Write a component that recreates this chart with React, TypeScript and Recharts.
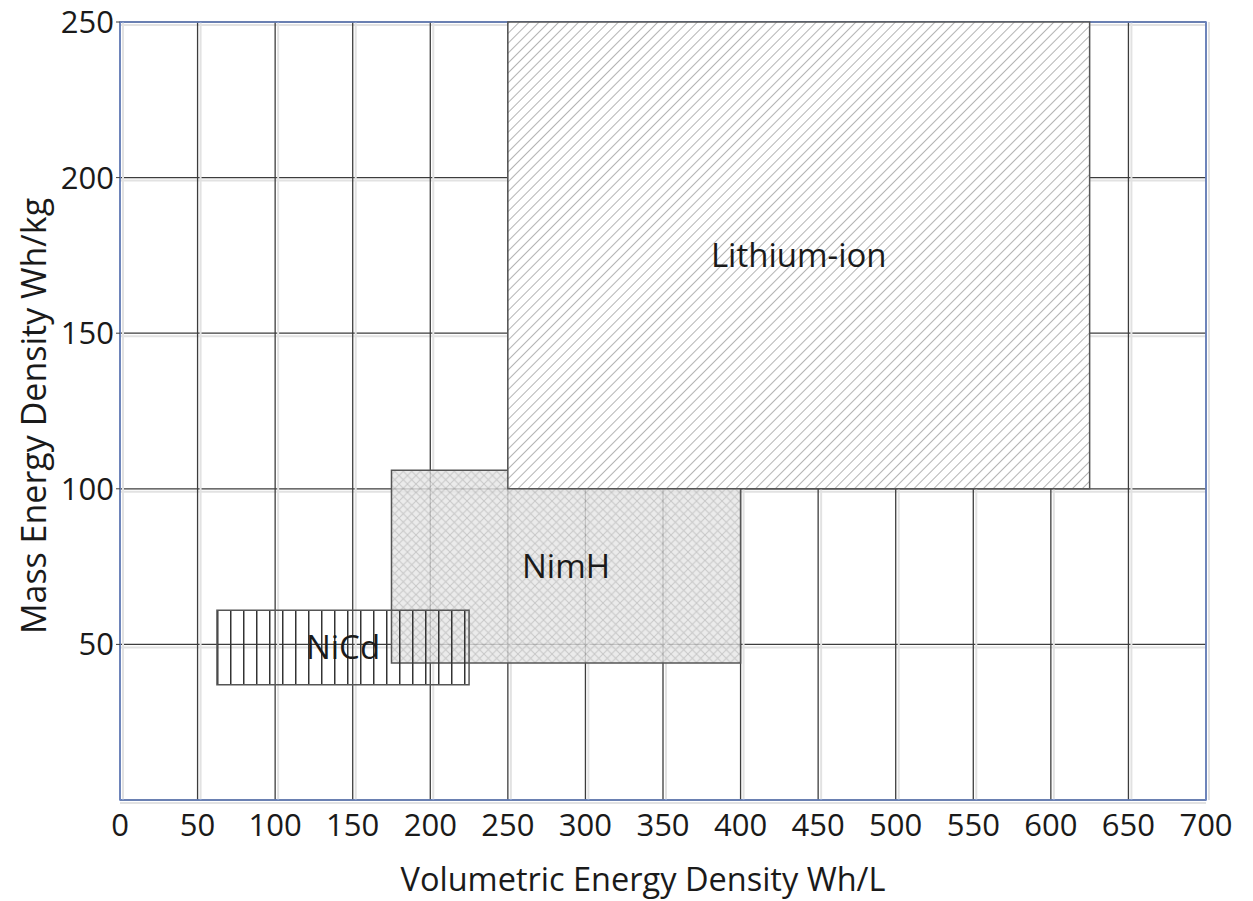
import {
  CartesianGrid,
  ComposedChart,
  LabelList,
  ReferenceArea,
  Scatter,
  XAxis,
  YAxis,
} from "recharts";

// battery chemistries, volumetric (Wh/L) vs mass (Wh/kg) energy density ranges
const chemistries = ["NimH", "NiCd", "Lithium-ion"];
const volumetricMin = [175, 62.5, 250];
const volumetricMax = [400, 225, 625];
const massMin = [44, 37, 100];
const massMax = [106, 61, 250];

const xTicks = [0, 50, 100, 150, 200, 250, 300, 350, 400, 450, 500, 550, 600, 650, 700];
const yTicks = [50, 100, 150, 200, 250];

// centre of each range, used to place the name
const centres = chemistries.map((name, i) => ({
  name,
  x: (volumetricMin[i] + volumetricMax[i]) / 2,
  y: (massMin[i] + massMax[i]) / 2,
}));

const fills = ["url(#crossHatch)", "url(#vertHatch)", "url(#diagHatch)"];
const opacities = [0.8, 1, 1];

const font = "'Open Sans', sans-serif";

const gridLine = (dx: number, dy: number) => (props: any) => {
  const { x1, y1, x2, y2 } = props;
  return (
    <g key={`${x1}-${y1}-${x2}-${y2}`}>
      <line x1={x1 + dx} y1={y1 + dy} x2={x2 + dx} y2={y2 + dy} stroke="#e2e2e2" strokeWidth={2} />
      <line x1={x1} y1={y1} x2={x2} y2={y2} stroke="#3c3c3c" strokeWidth={1.3} />
    </g>
  );
};

const App = () => {
  return (
    <div style={{ width: 1237, height: 893 }}>
      <ComposedChart
        width={1237}
        height={893}
        margin={{ top: 14, right: 39, left: 0, bottom: 0 }}
      >
        <defs>
          <pattern id="diagHatch" patternUnits="userSpaceOnUse" width={7} height={7} patternTransform="rotate(45)">
            <rect width={7} height={7} fill="#ffffff" />
            <line x1={0} y1={0} x2={0} y2={7} stroke="#b4b4b4" strokeWidth={2} />
          </pattern>
          <pattern id="crossHatch" patternUnits="userSpaceOnUse" width={8.5} height={8.5}>
            <rect width={8.5} height={8.5} fill="#e6e6e6" />
            <path d="M0,0 L8.5,8.5 M8.5,0 L0,8.5" stroke="#b9b9b9" strokeWidth={1} />
          </pattern>
          <pattern id="vertHatch" patternUnits="userSpaceOnUse" width={13} height={13} x={105}>
            <line x1={0.75} y1={0} x2={0.75} y2={13} stroke="#333333" strokeWidth={1.5} />
          </pattern>
        </defs>
        <CartesianGrid
          horizontal={gridLine(0, 3)}
          vertical={gridLine(3, 0)}
        />
        <XAxis
          type="number"
          dataKey="x"
          domain={[0, 700]}
          ticks={xTicks}
          interval={0}
          allowDataOverflow
          height={101}
          axisLine={false}
          tickLine={false}
          tickSize={0}
          tickMargin={14}
          tick={{ fontFamily: font, fontSize: 31, fill: "#1a1a1a" }}
          label={{
            content: (props: any) => {
              const vb = props.viewBox;
              return (
                <text
                  x={vb.x + vb.width / 2 - 20}
                  y={vb.y + 91}
                  textAnchor="middle"
                  fontFamily={font}
                  fontSize={32.5}
                  fill="#1a1a1a"
                >
                  Volumetric Energy Density Wh/L
                </text>
              );
            },
          }}
        />
        <YAxis
          type="number"
          dataKey="y"
          domain={[0, 250]}
          ticks={yTicks}
          interval={0}
          allowDataOverflow
          width={112}
          axisLine={false}
          tickLine={{ stroke: "#3c3c3c" }}
          tickSize={4}
          tickMargin={2}
          tick={{ fontFamily: font, fontSize: 31, fill: "#1a1a1a" }}
          label={{
            content: (props: any) => {
              const vb = props.viewBox;
              const cx = 25;
              const cy = vb.y + vb.height / 2 + 5;
              return (
                <text
                  x={cx}
                  y={cy}
                  transform={`rotate(-90, ${cx}, ${cy})`}
                  textAnchor="middle"
                  dominantBaseline="central"
                  fontFamily={font}
                  fontSize={34}
                  fill="#1a1a1a"
                >
                  Mass Energy Density Wh/kg
                </text>
              );
            },
          }}
        />
        <ReferenceArea
          x1={0}
          x2={700}
          y1={0}
          y2={250}
          fill="none"
          stroke="#6a86c9"
          strokeWidth={1.6}
        />
        {chemistries.map((name, i) => (
          <ReferenceArea
            key={name}
            x1={volumetricMin[i]}
            x2={volumetricMax[i]}
            y1={massMin[i]}
            y2={massMax[i]}
            fill={fills[i]}
            fillOpacity={opacities[i]}
            stroke="#555555"
            strokeWidth={1.5}
          />
        ))}
        <Scatter
          data={centres}
          isAnimationActive={false}
          shape={() => <g />}
        >
          <LabelList
            dataKey="name"
            position="center"
            fontFamily={font}
            fontSize={33}
            fill="#1a1a1a"
          />
        </Scatter>
      </ComposedChart>
    </div>
  );
};

export default App;
